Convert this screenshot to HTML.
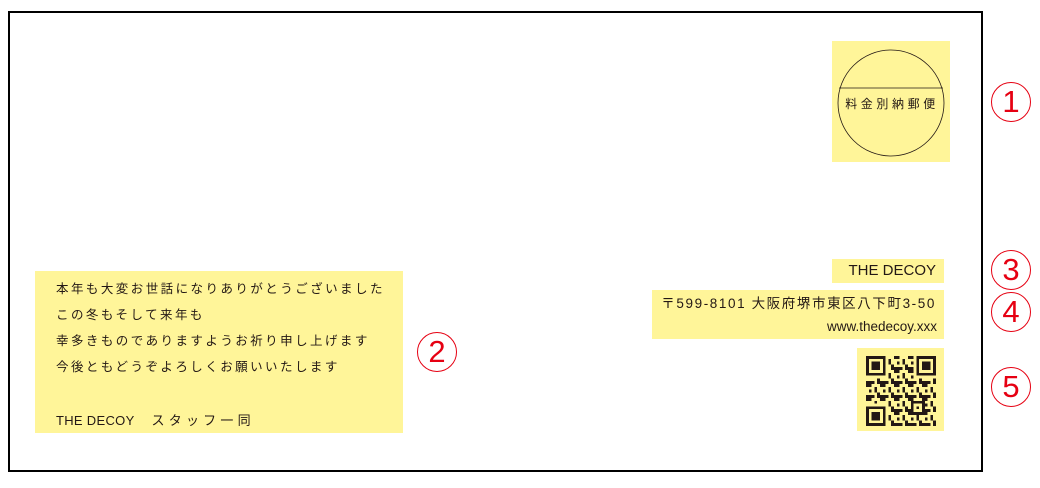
<!DOCTYPE html>
<html><head><meta charset="utf-8"><style>
body{margin:0;width:1040px;height:488px;background:#fff;position:relative;overflow:hidden;font-family:"Liberation Sans","Noto Sans CJK JP",sans-serif;color:#231815}
.a{position:absolute}
.y{position:absolute;background:#fff599}
.n{position:absolute;width:38px;height:38px;border:1.8px solid #e60012;border-radius:50%;color:#e60012;font-size:31px;line-height:38px;text-align:center;box-sizing:content-box}
.l{position:absolute;left:56px;font-size:12.5px;letter-spacing:2.45px;white-space:nowrap}
</style></head><body>
<div class="a" style="left:8px;top:11px;width:971px;height:457px;border:2px solid #000"></div>

<div class="y" style="left:832px;top:41px;width:118px;height:121px"></div>
<svg class="a" style="left:832px;top:41px" width="118" height="121">
<circle cx="59" cy="62" r="53" fill="none" stroke="#231815" stroke-width="0.8"/>
<line x1="7" y1="47" x2="111" y2="47" stroke="#231815" stroke-width="0.8"/>
<text x="60" y="67" font-size="12" text-anchor="middle" letter-spacing="3.6" font-family="Noto Sans CJK JP, sans-serif" fill="#231815">料金別納郵便</text>
</svg>

<div class="y" style="left:832px;top:259px;width:112px;height:24px"></div>
<div class="a" style="left:822px;top:262px;width:114px;text-align:right;font-size:15px">THE DECOY</div>

<div class="y" style="left:652px;top:290px;width:292px;height:49px"></div>
<div class="a" style="left:602px;top:292px;width:334px;text-align:right;font-size:13.5px;letter-spacing:1.6px;white-space:nowrap">〒599-8101 大阪府堺市東区八下町3-50</div>
<div class="a" style="left:652px;top:319px;width:285px;text-align:right;font-size:13.5px">www.thedecoy.xxx</div>

<div class="y" style="left:857px;top:348px;width:87px;height:83px"></div>
<svg class="a" style="left:866px;top:356px" width="70" height="70" viewBox="0 0 25 25" shape-rendering="crispEdges">
<defs><pattern id="p" width="5" height="5" patternUnits="userSpaceOnUse">
<rect x="0" y="0" width="2" height="1" fill="#231815"/><rect x="3" y="1" width="1" height="2" fill="#231815"/><rect x="1" y="2" width="1" height="1" fill="#231815"/><rect x="0" y="4" width="3" height="1" fill="#231815"/><rect x="4" y="3" width="1" height="2" fill="#231815"/></pattern></defs>
<rect width="25" height="25" fill="url(#p)"/>
<g fill="#fff599"><rect x="0" y="0" width="8" height="8"/><rect x="17" y="0" width="8" height="8"/><rect x="0" y="17" width="8" height="8"/></g>
<g fill="#231815">
<rect x="0" y="0" width="7" height="7"/><rect x="18" y="0" width="7" height="7"/><rect x="0" y="18" width="7" height="7"/></g>
<g fill="#fff599"><rect x="1" y="1" width="5" height="5"/><rect x="19" y="1" width="5" height="5"/><rect x="1" y="19" width="5" height="5"/></g>
<g fill="#231815"><rect x="2" y="2" width="3" height="3"/><rect x="20" y="2" width="3" height="3"/><rect x="2" y="20" width="3" height="3"/><rect x="16" y="16" width="5" height="5"/></g>
<rect x="17" y="17" width="3" height="3" fill="#fff599"/><rect x="18" y="18" width="1" height="1" fill="#231815"/>
</svg>

<div class="y" style="left:35px;top:271px;width:368px;height:162px"></div>
<div class="l" style="top:278px">本年も大変お世話になりありがとうございました</div>
<div class="l" style="top:304px">この冬もそして来年も</div>
<div class="l" style="top:330px">幸多きものでありますようお祈り申し上げます</div>
<div class="l" style="top:356px">今後ともどうぞよろしくお願いいたします</div>
<div class="l" style="top:410px;letter-spacing:0.3px;font-size:13px">THE DECOY　 ス タ ッ フ 一 同</div>

<div class="n" style="left:991px;top:82px">1</div>
<div class="n" style="left:417px;top:332px">2</div>
<div class="n" style="left:991px;top:250px">3</div>
<div class="n" style="left:991px;top:292px">4</div>
<div class="n" style="left:991px;top:367px">5</div>
</body></html>
